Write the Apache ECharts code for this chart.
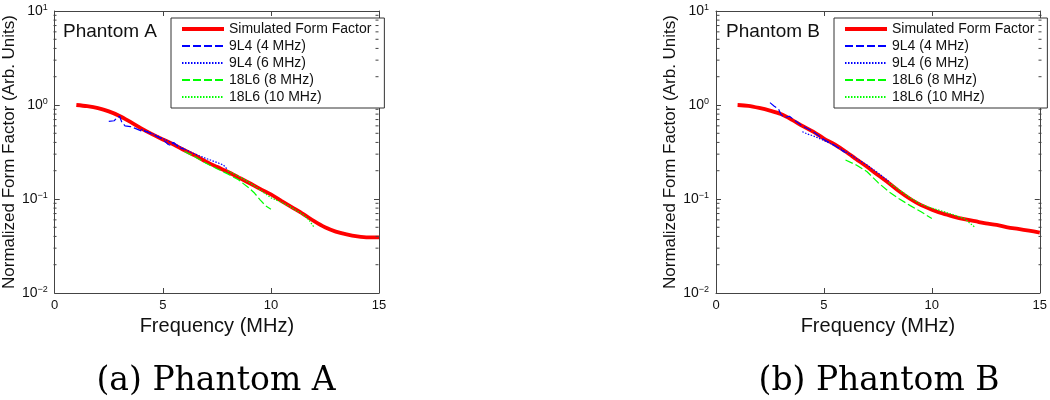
<!DOCTYPE html>
<html>
<head>
<meta charset="utf-8">
<script src="https://cdn.jsdelivr.net/npm/echarts@6/dist/echarts.min.js"></script>
<style>
  html, body { margin: 0; padding: 0; background: #fff; }
  #chart { width: 1050px; height: 400px; }
</style>
</head>
<body>
<div id="chart"></div>
<script>
// ==================== 1. data ====================
const seriesNames = ['Simulated Form Factor', '9L4 (4 MHz)', '9L4 (6 MHz)', '18L6 (8 MHz)', '18L6 (10 MHz)'];
const panelLabels = ['Phantom A', 'Phantom B'];
const captions = ['(a) Phantom A', '(b) Phantom B'];
const xTicks = [0, 5, 10, 15];

const simFreq = [1, 1.5, 2, 2.5, 3, 3.5, 4, 4.5, 5, 5.5, 6, 6.5, 7, 7.5, 8, 8.5, 9, 9.5, 10, 10.5, 11, 11.5, 12, 12.5, 13, 13.5, 14, 14.5, 15];

// Phantom A
const simA = [1.00, 0.97, 0.925, 0.855, 0.765, 0.66, 0.565, 0.49, 0.43, 0.38, 0.33, 0.29, 0.25, 0.22, 0.195, 0.17, 0.148, 0.128, 0.112, 0.095, 0.081, 0.069, 0.058, 0.050, 0.045, 0.042, 0.040, 0.039, 0.039];
const a4Freq = [2.5, 2.75, 2.9, 3.0, 3.1, 3.25, 3.5, 3.75, 4.0, 4.25, 4.5, 4.75, 5.0, 5.25, 5.4, 5.5, 5.6, 5.75, 6.0];
const a4Val  = [0.67, 0.68, 0.74, 0.76, 0.66, 0.60, 0.59, 0.56, 0.53, 0.52, 0.49, 0.46, 0.43, 0.38, 0.37, 0.40, 0.38, 0.35, 0.34];
const a6Freq = [4.0, 4.5, 5.0, 5.5, 6.0, 6.5, 7.0, 7.5, 7.8, 8.0];
const a6Val  = [0.55, 0.50, 0.44, 0.39, 0.34, 0.30, 0.27, 0.245, 0.23, 0.205];
const a8Freq = [6.0, 6.5, 7.0, 7.5, 8.0, 8.5, 9.0, 9.25, 9.5, 9.75, 10.0];
const a8Val  = [0.32, 0.28, 0.24, 0.21, 0.185, 0.16, 0.13, 0.115, 0.098, 0.085, 0.078];
const a10Freq = [8.0, 8.5, 9.0, 9.5, 10.0, 10.5, 11.0, 11.5, 11.75, 12.0];
const a10Val  = [0.20, 0.175, 0.15, 0.125, 0.103, 0.092, 0.080, 0.068, 0.060, 0.050];

// Phantom B
const simB = [1.00, 0.98, 0.93, 0.87, 0.80, 0.70, 0.60, 0.52, 0.44, 0.38, 0.32, 0.265, 0.22, 0.18, 0.148, 0.12, 0.10, 0.086, 0.077, 0.070, 0.065, 0.061, 0.058, 0.055, 0.053, 0.050, 0.048, 0.046, 0.044];
const b4Freq = [2.5, 2.7, 2.9, 3.0, 3.1, 3.25, 3.4, 3.6, 4.0, 4.5, 5.0, 5.5, 6.0];
const b4Val  = [1.06, 0.97, 0.90, 0.80, 0.76, 0.74, 0.76, 0.70, 0.60, 0.52, 0.43, 0.37, 0.31];
const b6Freq = [4.0, 4.25, 4.5, 5.0, 5.5, 6.0, 6.5, 7.0, 7.5, 8.0];
const b6Val  = [0.52, 0.49, 0.47, 0.42, 0.37, 0.32, 0.27, 0.23, 0.19, 0.155];
const b8Freq = [6.0, 6.5, 7.0, 7.5, 8.0, 8.5, 9.0, 9.5, 10.0];
const b8Val  = [0.26, 0.23, 0.195, 0.15, 0.12, 0.10, 0.085, 0.073, 0.062];
const b10Freq = [8.0, 8.5, 9.0, 9.5, 10.0, 10.5, 11.0, 11.5, 12.0];
const b10Val  = [0.15, 0.125, 0.103, 0.088, 0.080, 0.074, 0.068, 0.062, 0.050];

const zip = (xs, ys) => xs.map((x, i) => [x, ys[i]]);

// ==================== 2. layout ====================
const chartDom = document.getElementById('chart');
const myChart = echarts.init(chartDom);

const grids = [
    { left: 53, top: 11, width: 326, height: 282 },
    { left: 716, top: 11, width: 326, height: 282 }
];
const axisColor = '#444';
const sans = 'Liberation Sans';

const panelData = [
    [zip(simFreq, simA), zip(a4Freq, a4Val), zip(a6Freq, a6Val), zip(a8Freq, a8Val), zip(a10Freq, a10Val)],
    [zip(simFreq, simB), zip(b4Freq, b4Val), zip(b6Freq, b6Val), zip(b8Freq, b8Val), zip(b10Freq, b10Val)]
];
const lineStyles = [
    { color: '#ff0000', width: 3.8, type: 'solid' },
    { color: '#0000ff', width: 1.2, type: [8, 3] },
    { color: '#0000ff', width: 1.2, type: [1.5, 1.5] },
    { color: '#00ff00', width: 1.2, type: [8, 3] },
    { color: '#00ff00', width: 1.2, type: [1.5, 1.5] }
];

function logLabel(v) {
    const e = Math.round(Math.log10(v));
    return '{b|10}{s|' + (e < 0 ? '\u2212' + (-e) : e) + '}';
}

// box edges: every axis keeps its own side (no onZero)
const edge = { show: true, onZero: false, lineStyle: { color: axisColor, width: 1 } };
const tick = { inside: true, length: 5, lineStyle: { color: axisColor } };

const xAxes = [], yAxes = [], series = [], legends = [], titles = [];
grids.forEach((g, gi) => {
    // bottom (labelled) + top (ticks only)
    xAxes.push({
        type: 'value', gridIndex: gi, min: xTicks[0], max: xTicks[xTicks.length - 1], interval: 5, position: 'bottom',
        name: 'Frequency (MHz)', nameLocation: 'middle', nameGap: 20,
        nameTextStyle: { fontFamily: sans, fontSize: 20, color: '#111' },
        axisLine: edge, axisTick: tick,
        axisLabel: { margin: 6, fontFamily: sans, fontSize: 13, color: '#111' },
        splitLine: { show: false }
    });
    xAxes.push({
        type: 'value', gridIndex: gi, min: xTicks[0], max: xTicks[xTicks.length - 1], interval: 5, position: 'top',
        axisLine: edge, axisTick: tick,
        axisLabel: { show: false }, splitLine: { show: false }
    });
    yAxes.push({
        type: 'log', logBase: 10, gridIndex: gi, min: 0.01, max: 10, position: 'left',
        name: 'Normalized Form Factor (Arb. Units)', nameLocation: 'middle', nameGap: 29, nameRotate: 90,
        nameTextStyle: { fontFamily: sans, fontSize: 17, color: '#111' },
        axisLine: edge, axisTick: tick,
        axisLabel: {
            margin: 7, formatter: logLabel,
            rich: {
                b: { fontFamily: sans, fontSize: 14, color: '#111', lineHeight: 16 },
                s: { fontFamily: sans, fontSize: 9, color: '#111', verticalAlign: 'top', lineHeight: 9 }
            }
        },
        splitLine: { show: false }
    });
    yAxes.push({
        type: 'log', logBase: 10, gridIndex: gi, min: 0.01, max: 10, position: 'right',
        axisLine: edge, axisTick: tick,
        axisLabel: { show: false }, splitLine: { show: false }
    });

    seriesNames.forEach((name, si) => {
        series.push({
            name: name, type: 'line', xAxisIndex: gi * 2, yAxisIndex: gi * 2,
            data: panelData[gi][si], symbol: 'none', smooth: si === 0 ? 0.3 : false,
            lineStyle: lineStyles[si], itemStyle: { color: lineStyles[si].color },
            z: si === 0 ? 2 : 3
        });
    });

    legends.push({
        data: seriesNames.map((name, si) => si === 0 ? { name: name, lineStyle: { width: 4 } } : name),
        orient: 'vertical', left: g.left + 118, top: 18,
        backgroundColor: '#fff', borderColor: '#333', borderWidth: 1,
        padding: [4, 13, 4, 9], itemWidth: 42, itemHeight: 14, itemGap: 3,
        selectedMode: false,
        itemStyle: { opacity: 0 },
        textStyle: { fontFamily: sans, fontSize: 14, color: '#111' }
    });

    titles.push({
        text: captions[gi], left: g.left + g.width / 2, top: 365, textAlign: 'center', padding: 0,
        textStyle: { fontFamily: 'DejaVu Serif', fontSize: 33, fontWeight: 'normal', color: '#000' }
    });
});

myChart.setOption({
    backgroundColor: '#fff',
    animation: false,
    title: titles,
    legend: legends,
    grid: grids.map(g => Object.assign({ containLabel: false }, g)),
    xAxis: xAxes,
    yAxis: yAxes,
    series: series
});

// ==================== 3. panel labels + log minor ticks ====================
const graphics = [];
grids.forEach((g, gi) => {
    graphics.push({
        type: 'text', left: g.left + 10, top: 22, z: 10,
        style: { text: panelLabels[gi], font: '19px "Liberation Sans"', fill: '#111' }
    });
    [0.01, 0.1, 1].forEach(dec => {
        for (let k = 2; k <= 9; k++) {
            const py = myChart.convertToPixel({ xAxisIndex: gi * 2, yAxisIndex: gi * 2 }, [0, k * dec])[1];
            [[g.left + 0.5, g.left + 3.5], [g.left + g.width - 3.5, g.left + g.width - 0.5]].forEach(([x1, x2]) => {
                graphics.push({
                    type: 'line', silent: true, z: 5,
                    shape: { x1: x1, y1: py, x2: x2, y2: py },
                    style: { stroke: axisColor, lineWidth: 1 }
                });
            });
        }
    });
});
myChart.setOption({ graphic: graphics });
</script>
</body>
</html>
